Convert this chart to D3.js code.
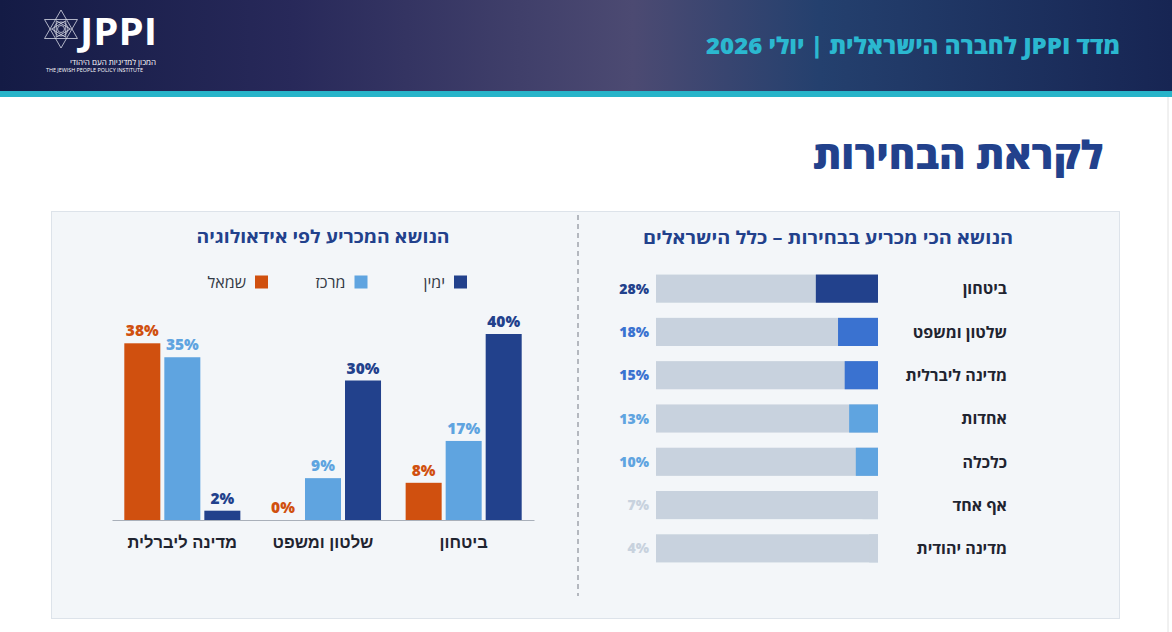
<!DOCTYPE html>
<html lang="he">
<head>
<meta charset="utf-8">
<script src="https://cdn.jsdelivr.net/npm/d3@7"></script>
<style>
  html, body { margin: 0; padding: 0; background: #ffffff; }
  svg { display: block; font-family: "Open Sans", "Liberation Sans", "DejaVu Sans", sans-serif; }
</style>
</head>
<body>
<svg id="chart" width="1172" height="632"></svg>
<script>
// ---- data ----
var topics = ['ביטחון', 'שלטון ומשפט', 'מדינה ליברלית', 'אחדות', 'כלכלה', 'אף אחד', 'מדינה יהודית'];
var topicValues = [28, 18, 15, 13, 10, 7, 4];

var groups = ['ביטחון', 'שלטון ומשפט', 'מדינה ליברלית'];
var camps = ['ימין', 'מרכז', 'שמאל'];
var rightValues = [40, 30, 2];   // ימין
var centerValues = [17, 9, 35];  // מרכז
var leftValues = [8, 0, 38];     // שמאל

var campColor = d3.scaleOrdinal()
  .domain(camps)
  .range(['#22418c', '#5fa4e0', '#d0500f']);

// colour of the highlighted part of each horizontal bar, by size
var topicColor = d3.scaleThreshold()
  .domain([8, 14, 20])
  .range(['#c8d2de', '#5fa4e0', '#3a72d0', '#22418c']);

var svg = d3.select('#chart');

//-------------------------------- header --------------------------------//
var defs = svg.append('defs');
var grad = defs.append('linearGradient').attr('id', 'headGrad')
  .attr('x1', '0%').attr('x2', '100%').attr('y1', '0%').attr('y2', '0%');
grad.append('stop').attr('offset', '0%').attr('stop-color', '#141b45');
grad.append('stop').attr('offset', '25%').attr('stop-color', '#28295a');
grad.append('stop').attr('offset', '54%').attr('stop-color', '#4c4a72');
grad.append('stop').attr('offset', '70%').attr('stop-color', '#24406e');
grad.append('stop').attr('offset', '100%').attr('stop-color', '#172553');

svg.append('rect').attr('x', 0).attr('y', 0).attr('width', 1172).attr('height', 92)
  .attr('fill', 'url(#headGrad)');
svg.append('rect').attr('x', 0).attr('y', 91).attr('width', 1172).attr('height', 6)
  .attr('fill', '#27b4c9');

// logo: star of david
var logo = svg.append('g').attr('transform', 'translate(61,29)')
  .attr('fill', 'none').attr('stroke', '#d8dbe6').attr('stroke-width', 0.8);
var r = 19;
var tri = function(rot) {
  return d3.range(3).map(function(i) {
    var a = (rot + i * 120) * Math.PI / 180;
    return [r * Math.sin(a), -r * Math.cos(a)];
  });
};
logo.append('path').attr('d', d3.line()(tri(0)) + 'Z');
logo.append('path').attr('d', d3.line()(tri(180)) + 'Z');
logo.append('circle').attr('r', 7);
logo.append('circle').attr('r', 3.5);
var hex = d3.range(6).map(function(i) {
  var a = (30 + i * 60) * Math.PI / 180;
  return [9.5 * Math.sin(a), -9.5 * Math.cos(a)];
});
hex.forEach(function(p, i) {
  var q = hex[(i + 2) % 6];
  logo.append('line').attr('x1', p[0]).attr('y1', p[1]).attr('x2', q[0]).attr('y2', q[1]);
});

svg.append('text').attr('x', 80).attr('y', 45)
  .attr('fill', '#ffffff').attr('font-size', 38).attr('font-weight', 700)
  .attr('textLength', 77).attr('lengthAdjust', 'spacingAndGlyphs').text('JPPI');
svg.append('text').attr('x', 156).attr('y', 65).attr('text-anchor', 'end')
  .attr('fill', '#ffffff').attr('font-size', 8).text('המכון למדיניות העם היהודי');
svg.append('text').attr('x', 46).attr('y', 72)
  .attr('fill', '#ffffff').attr('font-size', 5.4).text('THE JEWISH PEOPLE POLICY INSTITUTE');

svg.append('text').attr('x', 1120).attr('y', 54)
  .attr('direction', 'rtl').attr('text-anchor', 'start')
  .attr('fill', '#2bb8d0').attr('font-size', 23).attr('font-weight', 800)
  .attr('textLength', 414).attr('lengthAdjust', 'spacingAndGlyphs')
  .text('מדד JPPI לחברה הישראלית | יולי 2026');

// page title
svg.append('text').attr('x', 1103).attr('y', 169).attr('text-anchor', 'end')
  .attr('fill', '#22418c').attr('font-size', 39).attr('font-weight', 800)
  .attr('textLength', 290).attr('lengthAdjust', 'spacingAndGlyphs')
  .text('לקראת הבחירות');

// page edge
svg.append('line').attr('x1', 1168).attr('x2', 1168).attr('y1', 97).attr('y2', 632)
  .attr('stroke', '#e2e2e2').attr('stroke-width', 1);

//-------------------------------- panel --------------------------------//
svg.append('rect').attr('x', 51.5).attr('y', 211.5).attr('width', 1068).attr('height', 407)
  .attr('fill', '#f3f6f9').attr('stroke', '#dde3ea');
svg.append('line').attr('x1', 578).attr('x2', 578).attr('y1', 215).attr('y2', 596)
  .attr('stroke', '#b4b8bf').attr('stroke-width', 2).attr('stroke-dasharray', '5,4');

//-------------------------------- right: all israelis --------------------------------//
svg.append('text').attr('x', 828).attr('y', 244).attr('text-anchor', 'middle')
  .attr('fill', '#22418c').attr('font-size', 17.5).attr('font-weight', 700)
  .attr('textLength', 370).attr('lengthAdjust', 'spacingAndGlyphs')
  .text('הנושא הכי מכריע בבחירות – כלל הישראלים');

var barLeft = 656, barRight = 878;
var yRow = d3.scaleBand().domain(topics).range([267, 570]).paddingInner(0.35).paddingOuter(0.175);
var xPct = d3.scaleLinear().domain([0, 100]).range([0, barRight - barLeft]);

var rows = svg.append('g').selectAll('g.row')
  .data(topics).enter()
  .append('g').attr('class', 'row')
  .attr('transform', function(d) { return 'translate(0,' + yRow(d) + ')'; });

rows.append('rect')
  .attr('x', barLeft).attr('width', barRight - barLeft)
  .attr('height', yRow.bandwidth()).attr('fill', '#c8d2de');
rows.append('rect')
  .attr('x', function(d, i) { return barRight - xPct(topicValues[i]); })
  .attr('width', function(d, i) { return xPct(topicValues[i]); })
  .attr('height', yRow.bandwidth())
  .attr('fill', function(d, i) { return topicColor(topicValues[i]); });
rows.append('text')
  .attr('x', 649).attr('y', yRow.bandwidth() / 2).attr('dy', '0.36em')
  .attr('text-anchor', 'end').attr('font-size', 14).attr('font-weight', 800)
  .attr('fill', function(d, i) { return topicColor(topicValues[i]); })
  .text(function(d, i) { return topicValues[i] + '%'; });
rows.append('text')
  .attr('x', 1007).attr('y', yRow.bandwidth() / 2).attr('dy', '0.36em')
  .attr('text-anchor', 'end').attr('font-size', 16).attr('font-weight', 700)
  .attr('fill', '#1f2430')
  .text(function(d) { return d; });

//-------------------------------- left: by ideology --------------------------------//
svg.append('text').attr('x', 323).attr('y', 243).attr('text-anchor', 'middle')
  .attr('fill', '#22418c').attr('font-size', 17.5).attr('font-weight', 700)
  .attr('textLength', 253).attr('lengthAdjust', 'spacingAndGlyphs')
  .text('הנושא המכריע לפי אידאולוגיה');

// legend
var legendX = d3.scalePoint().domain(camps).range([467, 268]);
var legend = svg.append('g').selectAll('g.leg')
  .data(camps).enter().append('g').attr('class', 'leg')
  .attr('transform', function(d) { return 'translate(' + legendX(d) + ',282)'; });
legend.append('rect').attr('x', -13).attr('y', -6.5).attr('width', 13).attr('height', 13)
  .attr('fill', function(d) { return campColor(d); });
legend.append('text').attr('x', -22).attr('dy', '0.36em').attr('text-anchor', 'end')
  .attr('font-size', 16).attr('fill', '#333a45')
  .text(function(d) { return d; });

var baseY = 520;
var x0 = d3.scaleBand().domain(groups.slice().reverse()).range([112, 534])
  .paddingInner(0.175).paddingOuter(0.0875);
var x1 = d3.scaleBand().domain(camps.slice().reverse()).range([0, x0.bandwidth()]).paddingInner(0.1);
var yVal = d3.scaleLinear().domain([0, 40]).range([baseY, 334]);

var campData = {'ימין': rightValues, 'מרכז': centerValues, 'שמאל': leftValues};

var groupG = svg.append('g').selectAll('g.grp')
  .data(groups).enter().append('g').attr('class', 'grp')
  .attr('transform', function(d) { return 'translate(' + x0(d) + ',0)'; });

var cells = groupG.selectAll('g.cell')
  .data(function(d, gi) {
    return camps.map(function(c) { return {camp: c, value: campData[c][gi]}; });
  })
  .enter().append('g').attr('class', 'cell');

cells.append('rect')
  .attr('x', function(d) { return x1(d.camp); })
  .attr('width', x1.bandwidth())
  .attr('y', function(d) { return yVal(d.value); })
  .attr('height', function(d) { return baseY - yVal(d.value); })
  .attr('fill', function(d) { return campColor(d.camp); });
cells.append('text')
  .attr('x', function(d) { return x1(d.camp) + x1.bandwidth() / 2; })
  .attr('y', function(d) { return yVal(d.value) - 7; })
  .attr('text-anchor', 'middle').attr('font-size', 15.5).attr('font-weight', 800)
  .attr('fill', function(d) { return campColor(d.camp); })
  .text(function(d) { return d.value + '%'; });

svg.append('g').attr('transform', 'translate(0,' + baseY + ')')
  .call(d3.axisBottom(x0).tickSize(0).tickPadding(16))
  .call(function(g) {
    g.select('.domain').attr('stroke', '#a9b0ba').attr('stroke-width', 1.2);
    g.selectAll('text').attr('font-size', 16.5).attr('font-weight', 700)
      .attr('fill', '#1f2430').attr('font-family', null);
  });
</script>
</body>
</html>
